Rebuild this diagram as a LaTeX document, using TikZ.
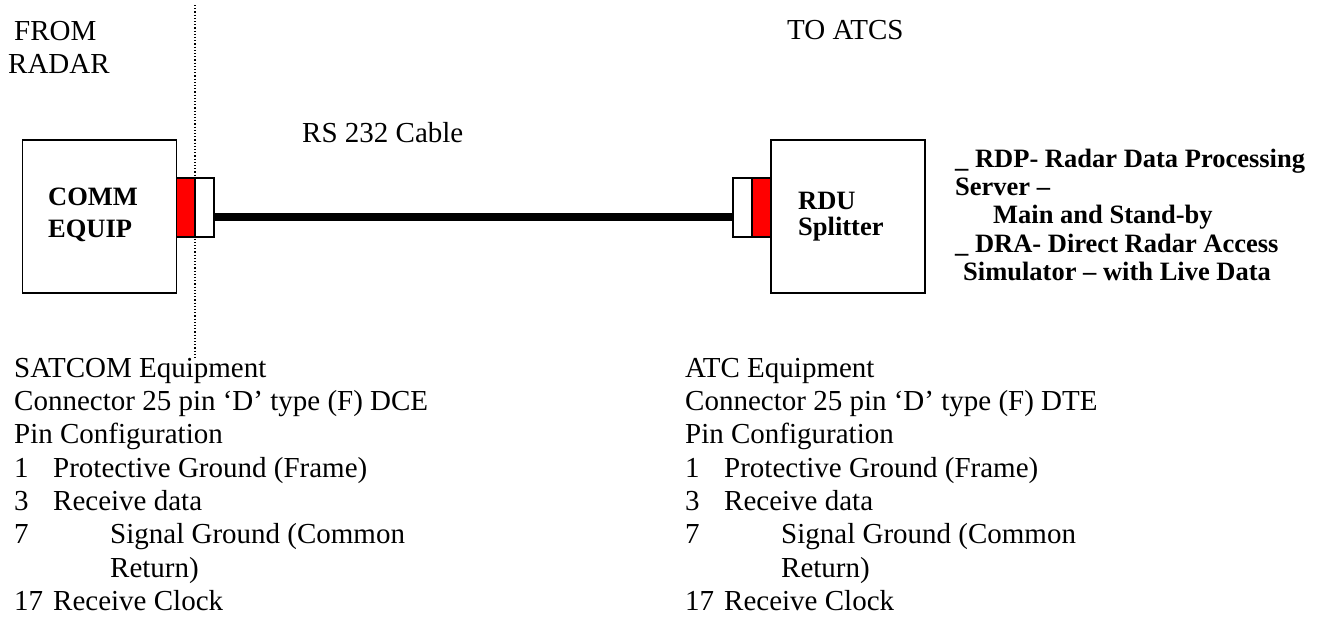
\documentclass[tikz,border=0pt]{standalone}
\usepackage{fontspec}
\setmainfont{Liberation Serif}
\begin{document}
\begin{tikzpicture}[x=1pt,y=-1pt,
  txt/.style={inner sep=0pt,anchor=base west,font=\fontsize{29}{33}\selectfont},
  btxt/.style={inner sep=0pt,anchor=base west,font=\fontsize{26.5}{28}\selectfont\bfseries},
  equip/.style={draw,line width=1.5pt,minimum width=154pt,minimum height=153pt,inner sep=0pt},
  plugred/.style={draw,line width=1.3pt,fill=red,minimum width=19pt,minimum height=59pt,inner sep=0pt},
  plugwhite/.style={draw,line width=1.3pt,fill=white,minimum width=19pt,minimum height=59pt,inner sep=0pt},
  cable/.style={line width=8pt},
  divider/.style={dotted,line width=1.2pt}
]
\useasboundingbox (0,0) rectangle (1322,619);

% headings
\node[txt] (from) at (14,40) {FROM};
\node[txt] (radar) at (8,73) {RADAR};
\node[txt] (toatcs) at (787,39) {TO ATCS};
\node[txt] (rs) at (302,142) {RS 232 Cable};

% divider
\coordinate (dtop) at (195,5);
\coordinate (dbot) at (195,360);
\draw[divider] (dtop) -- (dbot);

% left equipment
\node[equip] (comm) at (99.5,216.5) {};
\node[btxt] (comm1) at (48,205) {COMM};
\node[btxt] (comm2) at (48,237) {EQUIP};
\node[plugred] (redL) at (186,207.5) {};
\node[plugwhite] (whiteL) at (204.5,207.5) {};

% right equipment
\node[equip] (rdu) at (848,216.5) {};
\node[btxt] (rdu1) at (798,209) {RDU};
\node[btxt] (rdu2) at (798,235) {Splitter};
\node[plugwhite] (whiteR) at (742.5,207.5) {};
\node[plugred] (redR) at (761.5,207.5) {};

% cable
\draw[cable] ([yshift=-9.5pt]whiteL.east) -- ([yshift=-9.5pt]whiteR.west);

% right bold notes
\node[btxt] (n1) at (955,167) {\_ RDP- Radar Data Processing};
\node[btxt] (n2) at (955,195) {Server –};
\node[btxt] (n3) at (993,223) {Main and Stand-by};
\node[btxt] (n4) at (955,252) {\_ DRA- Direct Radar Access};
\node[btxt] (n5) at (963,280) {Simulator – with Live Data};

% bottom left column
\node[txt] (l1) at (14,377) {SATCOM Equipment};
\node[txt] (l2) at (14,410) {Connector 25 pin ‘D’ type (F) DCE};
\node[txt] (l3) at (14,443.5) {Pin Configuration};
\node[txt] (l4a) at (14,477) {1};
\node[txt] (l4b) at (53,477) {Protective Ground (Frame)};
\node[txt] (l5a) at (14,510) {3};
\node[txt] (l5b) at (53,510) {Receive data};
\node[txt] (l6a) at (14,543.5) {7};
\node[txt] (l6b) at (110,543.5) {Signal Ground (Common};
\node[txt] (l7) at (110,577) {Return)};
\node[txt] (l8a) at (14,610) {17};
\node[txt] (l8b) at (53,610) {Receive Clock};

% bottom right column
\node[txt] (r1) at (685,377) {ATC Equipment};
\node[txt] (r2) at (685,410) {Connector 25 pin ‘D’ type (F) DTE};
\node[txt] (r3) at (685,443.5) {Pin Configuration};
\node[txt] (r4a) at (685,477) {1};
\node[txt] (r4b) at (724,477) {Protective Ground (Frame)};
\node[txt] (r5a) at (685,510) {3};
\node[txt] (r5b) at (724,510) {Receive data};
\node[txt] (r6a) at (685,543.5) {7};
\node[txt] (r6b) at (781,543.5) {Signal Ground (Common};
\node[txt] (r7) at (781,577) {Return)};
\node[txt] (r8a) at (685,610) {17};
\node[txt] (r8b) at (724,610) {Receive Clock};
\end{tikzpicture}
\end{document}
